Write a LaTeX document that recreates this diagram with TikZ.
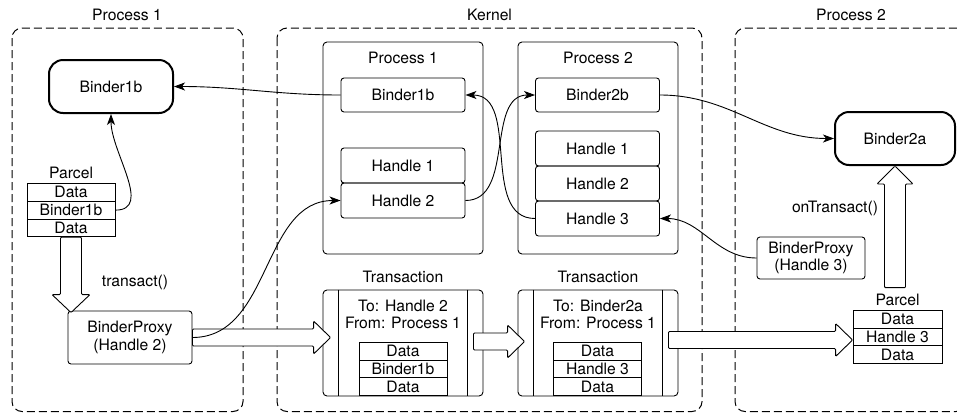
\documentclass[tikz,border=0pt]{standalone}
\usepackage{fontspec}
\setmainfont{TeX Gyre Heros}
\usetikzlibrary{arrows.meta,calc}
\newcommand\dfont{\fontsize{15.7pt}{17.5pt}\selectfont}
\newcommand\fatright[2]{\draw[fat] let \p1=(#1),\p2=(#2) in
	(\x1,\y1+8.5pt) -- (\x2-17pt,\y1+8.5pt) -- (\x2-17pt,\y1+16.5pt) -- (\x2,\y1)
	-- (\x2-17pt,\y1-16.5pt) -- (\x2-17pt,\y1-8.5pt) -- (\x1,\y1-8.5pt) -- cycle;}
\newcommand\fatup[2]{\draw[fat] let \p1=(#1),\p2=(#2) in
	(\x2-10.5pt,\y1) -- (\x2-10.5pt,\y2-18pt) -- (\x2-18pt,\y2-18pt) -- (\x2,\y2)
	-- (\x2+18pt,\y2-18pt) -- (\x2+10.5pt,\y2-18pt) -- (\x2+10.5pt,\y1) -- cycle;}
\newcommand\fatdown[2]{\draw[fat] let \p1=(#1),\p2=(#2) in
	(\x2-10.5pt,\y1) -- (\x2-10.5pt,\y2+18pt) -- (\x2-19pt,\y2+18pt) -- (\x2,\y2)
	-- (\x2+19pt,\y2+18pt) -- (\x2+10.5pt,\y2+18pt) -- (\x2+10.5pt,\y1) -- cycle;}
\tikzset{
	region/.style={draw,line width=1pt,dash pattern=on 8pt off 4pt,rounded corners=10pt},
	obj/.style={draw,line width=2pt,rounded corners=14pt,minimum width=124pt,minimum height=53pt},
	entry/.style={draw,line width=0.9pt,rounded corners=3pt,align=center,minimum width=124pt,minimum height=35pt},
	frame/.style={draw,line width=0.9pt,rounded corners=4pt,minimum width=160pt},
	cell/.style={draw,line width=0.9pt,inner sep=0pt,minimum width=88pt,minimum height=17.8pt,text height=11.3pt,text depth=0pt},
	conn/.style={line width=0.9pt,-{Stealth[length=11pt,width=8pt,inset=3pt]}},
	fat/.style={draw,line width=0.9pt,fill=white,rounded corners=1pt}
}
\begin{document}
\begin{tikzpicture}[x=1pt,y=-1pt,every node/.style={font=\dfont}]
	\useasboundingbox (0,0) rectangle (957,413);
	\draw[region] (12,28) rectangle (243,411.5);
	\draw[region] (277,28) rectangle (702,411.5);
	\draw[region] (735,28) rectangle (966,411.5);
	\node (lproc1) at (127,15) {Process 1};
	\node (lkernel) at (489.5,15) {Kernel};
	\node (lproc2) at (851,15) {Process 2};

	\node[obj] (pbinder) at (111,86.5) {Binder1b};
	\node (pparcel) at (71,173) {Parcel};
	\node[cell] (pdata1) at (71,192.3) {Data};
	\node[cell] (pbinder1b) at (71,210.1) {Binder1b};
	\node[cell] (pdata2) at (71,227.9) {Data};
	\node[entry,minimum height=53pt] (proxy2) at (130,337.5) {BinderProxy\\(Handle 2)};
	\node (ltransact) at (135,282) {transact()};

	\node[frame,minimum height=212pt] (kproc1) at (403,148) {};
	\node (lkproc1) at (403,58) {Process 1};
	\node[entry,minimum height=34pt] (kbinder1b) at (403,95) {Binder1b};
	\node[entry] (kh1) at (403,165.5) {Handle 1};
	\node[entry] (kh2) at (403,200.5) {Handle 2};
	\node[frame,minimum height=212pt] (kproc2) at (598,148) {};
	\node (lkproc2) at (598,58) {Process 2};
	\node[entry,minimum height=34pt] (kbinder2b) at (597.5,95) {Binder2b};
	\node[entry] (kq1) at (597.5,148.5) {Handle 1};
	\node[entry] (kq2) at (597.5,183.5) {Handle 2};
	\node[entry] (kq3) at (597.5,218.5) {Handle 3};

	\node (ltrans1) at (403,277) {Transaction};
	\node[frame,minimum height=106pt] (trans1) at (403,343) {};
	\draw[line width=0.9pt] ([xshift=16pt]trans1.north west) -- ([xshift=16pt]trans1.south west);
	\draw[line width=0.9pt] ([xshift=-16pt]trans1.north east) -- ([xshift=-16pt]trans1.south east);
	\node[align=center] (to1) at (403,314.5) {To: Handle 2\\From: Process 1};
	\node[cell] (tdata1) at (403,351.2) {Data};
	\node[cell] (tbinder1b) at (403,369) {Binder1b};
	\node[cell] (tdata2) at (403,386.8) {Data};
	\node (ltrans2) at (598,277) {Transaction};
	\node[frame,minimum height=106pt] (trans2) at (598,343) {};
	\draw[line width=0.9pt] ([xshift=16pt]trans2.north west) -- ([xshift=16pt]trans2.south west);
	\draw[line width=0.9pt] ([xshift=-16pt]trans2.north east) -- ([xshift=-16pt]trans2.south east);
	\node[align=center] (to2) at (598,314.5) {To: Binder2a\\From: Process 1};
	\node[cell] (udata1) at (597.5,351.2) {Data};
	\node[cell] (uhandle3) at (597.5,369) {Handle 3};
	\node[cell] (udata2) at (597.5,386.8) {Data};

	\node[obj,minimum width=120pt] (binder2a) at (895,138.5) {Binder2a};
	\node (lontransact) at (835,208) {onTransact()};
	\node[entry,minimum width=108pt,minimum height=42pt] (proxy3) at (811,258) {BinderProxy\\(Handle 3)};
	\node (qparcel) at (897.5,300) {Parcel};
	\node[cell,minimum width=89pt] (qdata1) at (897.5,319.2) {Data};
	\node[cell,minimum width=89pt] (qhandle3) at (897.5,337) {Handle 3};
	\node[cell,minimum width=89pt] (qdata2) at (897.5,354.8) {Data};

	\fatdown{pdata2.south}{$(pdata2.south |- proxy2.north)+(0,2)$}
	\fatright{proxy2.east}{$(trans1.west)+(8,0)$}
	\fatright{$(trans1.east)+(-10,-1.5)$}{$(trans2.west)+(7,0)$}
	\fatright{$(trans2.east)+(-10,-3)$}{qhandle3.west}
	\fatup{$(qparcel.north)+(0,-3)$}{binder2a.south}

	\draw[conn] (kbinder1b.west) to[out=180,in=0] (pbinder.east);
	\draw[conn] (pbinder1b.east) to[out=0,in=-90] (pbinder.south);
	\draw[conn] (proxy2.east) to[out=0,in=180] (kh2.west);
	\draw[conn] (kh2.east) to[out=0,in=180] (kbinder2b.west);
	\draw[conn] (kq3.west) to[out=180,in=0] (kbinder1b.east);
	\draw[conn] (kbinder2b.east) to[out=0,in=180] (binder2a.west);
	\draw[conn] (proxy3.west) to[out=180,in=0] (kq3.east);
\end{tikzpicture}
\end{document}
